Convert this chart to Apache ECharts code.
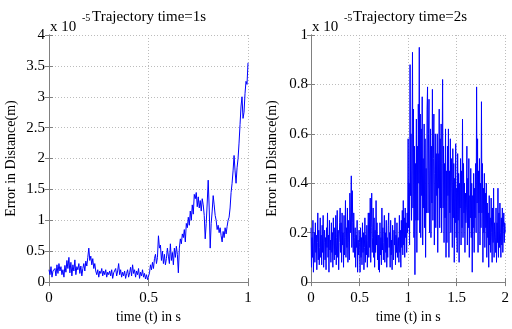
<!DOCTYPE html>
<html><head><meta charset="utf-8">
<script src="https://cdn.jsdelivr.net/npm/echarts@6/dist/echarts.min.js"></script>
<style>html,body{margin:0;padding:0;background:#fff}#c{width:512px;height:329px}</style>
</head><body><div id="c"></div>
<script>
// Left panel: trajectory time = 1 s, samples every 0.005 s (values in 1e-5 m)
const leftStep = 0.005;
const leftValues = [
0.20,0.12,0.25,0.08,0.18,0.15,0.22,0.10,0.28,0.14,
0.30,0.18,0.25,0.12,0.20,0.08,0.27,0.16,0.35,0.22,
0.40,0.15,0.32,0.10,0.28,0.18,0.36,0.12,0.25,0.20,
0.30,0.14,0.26,0.10,0.22,0.30,0.18,0.34,0.26,0.40,
0.55,0.35,0.42,0.28,0.38,0.22,0.30,0.18,0.12,0.20,
0.08,0.18,0.14,0.22,0.10,0.18,0.12,0.20,0.08,0.16,
0.12,0.18,0.10,0.20,0.06,0.15,0.12,0.22,0.10,0.18,
0.30,0.12,0.20,0.08,0.16,0.10,0.18,0.06,0.14,0.20,
0.08,0.15,0.24,0.10,0.28,0.14,0.20,0.08,0.18,0.12,
0.22,0.06,0.16,0.10,0.20,0.08,0.14,0.05,0.12,0.04,
0.02,0.15,0.28,0.20,0.32,0.22,0.38,0.45,0.30,0.40,
0.75,0.55,0.60,0.35,0.50,0.30,0.45,0.28,0.38,0.55,
0.42,0.30,0.62,0.35,0.48,0.28,0.55,0.40,0.58,0.45,
0.15,0.55,0.70,0.62,0.78,0.72,0.85,0.65,0.95,0.88,
1.05,0.92,1.15,1.00,1.25,1.10,1.42,1.35,1.45,1.22,
1.38,1.20,1.32,1.15,1.35,1.25,1.08,0.70,0.95,1.28,
1.65,1.20,0.55,0.95,1.15,1.40,1.25,1.08,1.00,0.85,
0.92,0.80,0.88,0.75,0.65,0.82,0.72,0.88,0.78,0.90,
1.00,1.05,1.20,1.45,1.60,1.80,2.05,1.80,1.60,1.85,
2.00,2.25,2.55,2.85,3.00,2.65,2.75,3.05,3.25,3.20,3.55
];
// Right panel: trajectory time = 2 s, samples every 0.005 s (values in 1e-5 m)
const rightStep = 0.005;
const rightValues = [
0.22,0.06,0.18,0.10,0.25,0.04,0.15,0.20,0.08,0.24,
0.12,0.19,0.05,0.16,0.28,0.09,0.21,0.07,0.14,0.26,
0.10,0.19,0.07,0.23,0.12,0.27,0.06,0.16,0.21,0.09,
0.18,0.05,0.22,0.14,0.28,0.10,0.19,0.04,0.25,0.13,
0.17,0.08,0.24,0.12,0.20,0.06,0.26,0.15,0.09,0.22,
0.11,0.27,0.07,0.18,0.29,0.10,0.21,0.05,0.16,0.24,
0.30,0.12,0.24,0.08,0.28,0.15,0.20,0.06,0.27,0.11,
0.18,0.33,0.10,0.22,0.14,0.30,0.08,0.25,0.16,0.09,
0.36,0.20,0.28,0.43,0.14,0.37,0.24,0.12,0.28,0.18,
0.10,0.22,0.06,0.19,0.14,0.25,0.04,0.17,0.11,0.21,
0.16,0.04,0.22,0.10,0.18,0.07,0.24,0.12,0.20,0.05,
0.14,0.26,0.08,0.19,0.11,0.23,0.06,0.17,0.28,0.10,
0.28,0.14,0.34,0.08,0.22,0.36,0.12,0.18,0.30,0.10,
0.26,0.06,0.21,0.12,0.33,0.15,0.24,0.09,0.19,0.05,
0.19,0.04,0.24,0.11,0.18,0.07,0.30,0.13,0.22,0.09,
0.16,0.27,0.08,0.20,0.12,0.25,0.06,0.18,0.10,0.23,
0.28,0.14,0.20,0.06,0.25,0.11,0.17,0.05,0.23,0.13,
0.09,0.21,0.15,0.26,0.07,0.19,0.12,0.24,0.10,0.17,
0.18,0.08,0.27,0.12,0.21,0.06,0.25,0.14,0.29,0.11,
0.33,0.15,0.26,0.10,0.30,0.18,0.24,0.12,0.28,0.20,
0.58,0.22,0.40,0.15,0.88,0.35,0.60,0.25,0.45,0.93,
0.30,0.70,0.18,0.55,0.03,0.48,0.25,0.66,0.12,0.55,
0.25,0.72,0.40,0.95,0.20,0.68,0.18,0.62,0.35,0.75,
0.15,0.50,0.30,0.64,0.22,0.58,0.10,0.46,0.28,0.70,
0.79,0.28,0.60,0.74,0.20,0.45,0.62,0.18,0.55,0.32,
0.78,0.25,0.50,0.68,0.15,0.44,0.60,0.22,0.52,0.35,
0.60,0.12,0.52,0.38,0.70,0.22,0.58,0.30,0.64,0.20,
0.48,0.82,0.30,0.55,0.16,0.48,0.26,0.62,0.10,0.45,
0.16,0.55,0.35,0.62,0.10,0.45,0.28,0.58,0.20,0.50,
0.38,0.14,0.54,0.26,0.48,0.08,0.42,0.24,0.56,0.18,
0.38,0.12,0.52,0.25,0.44,0.08,0.40,0.30,0.50,0.15,
0.45,0.22,0.66,0.18,0.48,0.28,0.40,0.12,0.36,0.24,
0.30,0.55,0.15,0.42,0.22,0.50,0.10,0.35,0.26,0.46,
0.18,0.40,0.04,0.35,0.22,0.44,0.12,0.38,0.26,0.48,
0.20,0.79,0.32,0.58,0.12,0.45,0.28,0.50,0.15,0.40,
0.22,0.73,0.28,0.48,0.08,0.38,0.20,0.44,0.14,0.36,
0.22,0.40,0.10,0.32,0.18,0.28,0.06,0.35,0.15,0.26,
0.12,0.34,0.20,0.08,0.30,0.16,0.38,0.10,0.24,0.18,
0.12,0.30,0.08,0.24,0.16,0.38,0.10,0.28,0.14,0.32,
0.20,0.10,0.26,0.15,0.30,0.12,0.22,0.28,0.16,0.24,
0.20
];
const titles = ['Trajectory time=1s', 'Trajectory time=2s'];
const xName = 'time (t) in s';
const yName = 'Error in Distance(m)';

const FONT = '"Liberation Serif", "DejaVu Serif", serif';
const chart = echarts.init(document.getElementById('c'));
const toPairs = (vals, step) => vals.map((v, i) => [+(i * step).toFixed(4), v]);

function fmt(v){ return String(+v.toFixed(2)); }

const gridLine = {show:true, lineStyle:{color:'#bcbcbc', type:[1,2], width:1}};
function xAxes(gi, max){
  return [{
    type:'value', gridIndex:gi, min:0, max:max, interval:0.5, position:'bottom',
    name:xName, nameLocation:'middle', nameGap:27,
    nameTextStyle:{fontFamily:FONT, fontSize:14, color:'#000'},
    axisLine:{show:true, lineStyle:{color:'#808080'}},
    axisTick:{show:true, inside:true, length:4, lineStyle:{color:'#808080'}},
    axisLabel:{fontFamily:FONT, fontSize:15, color:'#000', margin:8, formatter:fmt},
    splitLine:gridLine
  },{
    type:'value', gridIndex:gi, min:0, max:max, interval:0.5, position:'top',
    axisLine:{show:true, lineStyle:{color:'#808080'}},
    axisTick:{show:true, inside:true, length:4, lineStyle:{color:'#808080'}},
    axisLabel:{show:false}, splitLine:{show:false}
  }];
}
function yAxes(gi, max, interval, gap, margin){
  return [{
    type:'value', gridIndex:gi, min:0, max:max, interval:interval, position:'left',
    name:yName, nameLocation:'middle', nameGap:gap, nameRotate:90,
    nameTextStyle:{fontFamily:FONT, fontSize:14, color:'#000'},
    axisLine:{show:true, lineStyle:{color:'#808080'}},
    axisTick:{show:true, inside:true, length:4, lineStyle:{color:'#808080'}},
    axisLabel:{fontFamily:FONT, fontSize:15, color:'#000', margin:margin, formatter:fmt},
    splitLine:gridLine
  },{
    type:'value', gridIndex:gi, min:0, max:max, interval:interval, position:'right',
    axisLine:{show:true, lineStyle:{color:'#808080'}},
    axisTick:{show:true, inside:true, length:4, lineStyle:{color:'#808080'}},
    axisLabel:{show:false}, splitLine:{show:false}
  }];
}

const option = {
  animation:false,
  backgroundColor:'#fff',
  grid:[
    {left:49, right:264, top:35, bottom:37},
    {left:311, right:3, top:35, bottom:37}
  ],
  xAxis:[...xAxes(0,1), ...xAxes(1,2)],
  yAxis:[...yAxes(0,4,0.5,31,4), ...yAxes(1,1,0.2,32,3)],
  series:[
    {type:'line', xAxisIndex:0, yAxisIndex:0, data:toPairs(leftValues,leftStep), showSymbol:false,
     lineStyle:{color:'#0000ff', width:1}, itemStyle:{color:'#0000ff'}},
    {type:'line', xAxisIndex:2, yAxisIndex:2, data:toPairs(rightValues,rightStep), showSymbol:false,
     lineStyle:{color:'#0000ff', width:1}, itemStyle:{color:'#0000ff'}}
  ],
  graphic:[
    {type:'text', left:50, top:20, style:{text:'x 10', font:'15px '+FONT, fill:'#000'}},
    {type:'text', left:82, top:13, style:{text:'-5', font:'10px '+FONT, fill:'#000'}},
    {type:'text', left:92, top:10, style:{text:titles[0], font:'15px '+FONT, fill:'#000'}},
    {type:'text', left:312, top:20, style:{text:'x 10', font:'15px '+FONT, fill:'#000'}},
    {type:'text', left:344, top:13, style:{text:'-5', font:'10px '+FONT, fill:'#000'}},
    {type:'text', left:353, top:10, style:{text:titles[1], font:'15px '+FONT, fill:'#000'}}
  ]
};
chart.setOption(option);
</script>
</body></html>
